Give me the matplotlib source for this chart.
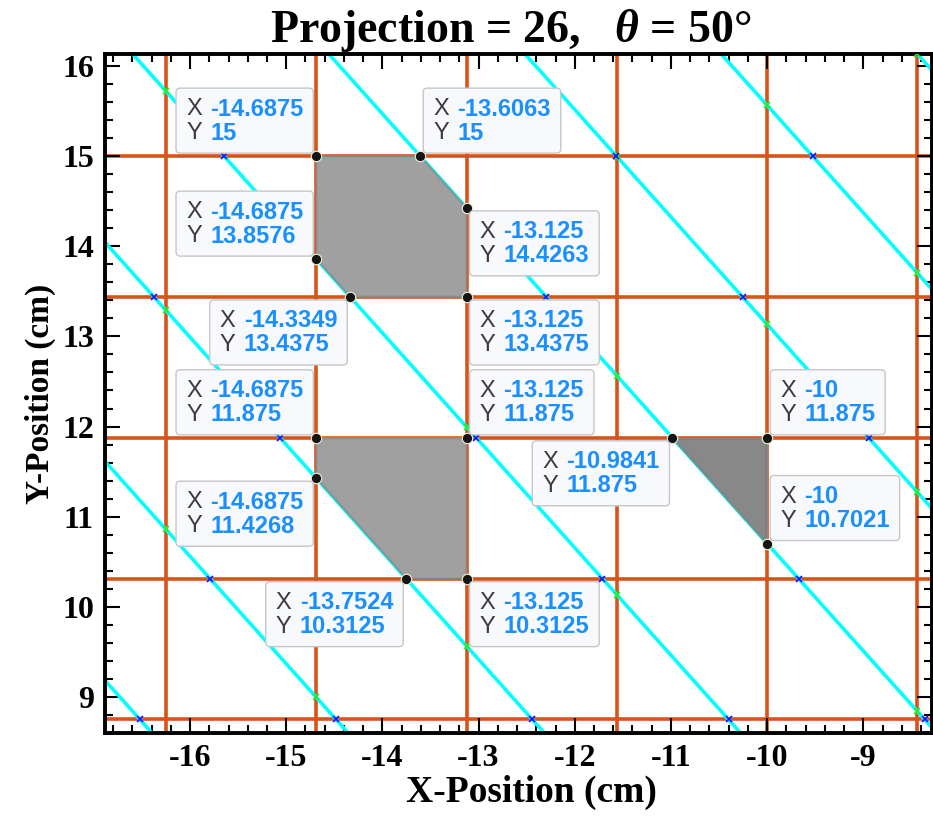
import numpy as np
import matplotlib.pyplot as plt
from matplotlib.patches import Polygon, FancyBboxPatch
from matplotlib.transforms import IdentityTransform
from matplotlib.ticker import MultipleLocator

# --- fuentes / estilo ---
plt.rcParams['font.family'] = ['Liberation Serif', 'DejaVu Serif']
plt.rcParams['font.weight'] = 'bold'
plt.rcParams['axes.labelweight'] = 'bold'
plt.rcParams['axes.titleweight'] = 'bold'
plt.rcParams['axes.unicode_minus'] = False
plt.rcParams['mathtext.fontset'] = 'custom'
plt.rcParams['mathtext.it'] = 'Liberation Serif:italic:bold'
plt.rcParams['mathtext.rm'] = 'Liberation Serif:bold'

# --- datos ---
PROJECTION = 26
THETA_DEG = 50
GRID_X = [-16.25, -14.6875, -13.125, -11.5625, -10.0, -8.4375]
GRID_Y = [8.75, 10.3125, 11.875, 13.4375, 15.0]
# desplazamiento perpendicular de cada rayo (x*sin + y*cos = s)
RAY_OFFSETS = [-7.03125, -5.46875, -3.90625, -2.34375, -0.78125, 0.78125, 2.34375, 3.90625]

POLY_1 = [(-14.6875, 15), (-13.6063, 15), (-13.125, 14.4263), (-13.125, 13.4375),
          (-14.3349, 13.4375), (-14.6875, 13.8576)]
POLY_2 = [(-14.6875, 11.875), (-13.125, 11.875), (-13.125, 10.3125),
          (-13.7524, 10.3125), (-14.6875, 11.4268)]
POLY_3 = [(-10.9841, 11.875), (-10, 11.875), (-10, 10.7021)]
POLY_COLORS = ['#999999', '#999999', '#7f7f7f']

# data tips: (x, y, lado)  u/l = arriba/abajo, l/r = izquierda/derecha
TIPS = [(-14.6875, 15, 'ul'), (-13.6063, 15, 'ur'), (-13.125, 14.4263, 'lr'),
        (-13.125, 13.4375, 'lr'), (-14.3349, 13.4375, 'll'), (-14.6875, 13.8576, 'ul'),
        (-14.6875, 11.875, 'ul'), (-13.125, 11.875, 'ur'), (-13.125, 10.3125, 'lr'),
        (-13.7524, 10.3125, 'll'), (-14.6875, 11.4268, 'll'), (-10.9841, 11.875, 'll'),
        (-10, 11.875, 'ur'), (-10, 10.7021, 'ur')]

XLIM = (-16.884, -8.286)
YLIM = (8.60, 16.133)

fig = plt.figure(figsize=(9.33, 8.19), dpi=100)
ax = fig.add_axes([105 / 933, 1 - 733 / 819, 827 / 933, 679 / 819])
ax.set_xlim(*XLIM)
ax.set_ylim(*YLIM)

# rejilla de detectores
for gx in GRID_X:
    ax.axvline(gx, color='#d95319', lw=2.6, zorder=1)
for gy in GRID_Y:
    ax.axhline(gy, color='#d95319', lw=2.6, zorder=1)

# rayos de proyeccion
th = np.radians(THETA_DEG)
xs = np.array([XLIM[0] - 1, XLIM[1] + 1])
for s in RAY_OFFSETS:
    ys = (s - xs * np.sin(th)) / np.cos(th)
    ax.plot(xs, ys, color='#00ffff', lw=2.6, zorder=2)
    # cortes con lineas verticales / horizontales
    for gx in GRID_X:
        yv = (s - gx * np.sin(th)) / np.cos(th)
        if YLIM[0] < yv < YLIM[1]:
            ax.plot(gx, yv, 'x', color='#22ee22', ms=5, mew=1.2, zorder=3)
    for gy in GRID_Y:
        xv = (s - gy * np.cos(th)) / np.sin(th)
        if XLIM[0] < xv < XLIM[1]:
            ax.plot(xv, gy, 'x', color='#1010ff', ms=5, mew=1.2, zorder=3)

# poligonos de interseccion
for poly, col in zip([POLY_1, POLY_2, POLY_3], POLY_COLORS):
    ax.add_patch(Polygon(poly, closed=True, fc=col, ec='#8a8a8a', lw=1, alpha=0.93, zorder=4))
    vx, vy = zip(*poly)
    ax.plot(vx, vy, 'o', ms=7.5, mfc='#151515', mec='#f3f0d8', mew=0.8, ls='none', zorder=5)

# ejes
ax.xaxis.set_major_locator(MultipleLocator(1))
ax.xaxis.set_minor_locator(MultipleLocator(0.2))
ax.yaxis.set_major_locator(MultipleLocator(1))
ax.yaxis.set_minor_locator(MultipleLocator(0.2))
ax.tick_params(which='both', direction='in', top=True, right=True, width=1.5, labelsize=23)
ax.tick_params(which='major', length=11, pad=8)
ax.tick_params(which='minor', length=6)
for sp in ax.spines.values():
    sp.set_linewidth(2.8)

ax.set_title(f'Projection = {PROJECTION},   $\\theta$ = {THETA_DEG}°', fontsize=33, pad=3, x=0.491)
ax.set_xlabel('X-Position (cm)', fontsize=27, labelpad=1)
ax.xaxis.label.set_x(0.516)
ax.set_ylabel('Y-Position (cm)', fontsize=24, labelpad=4)

# --- data tips (en pixeles) ---
renderer = fig.canvas.get_renderer()
tip_kw = dict(transform=IdentityTransform(), fontsize=17, family='Liberation Sans',
              va='center', ha='left', zorder=11)
for x, y, side in TIPS:
    px, py = ax.transData.transform((x, y))
    rows = []
    for letter, val in [('X', f'{x:g}'), ('Y', f'{y:g}')]:
        tl = fig.text(0, 0, letter, color='#3c3c3c', weight='normal', **tip_kw)
        tv = fig.text(0, 0, val, color='#1a8fff', weight='bold', **tip_kw)
        rows.append((tl, tv))
    w = 34 + max(tv.get_window_extent(renderer).width for _, tv in rows) + 10
    h = 65
    left = px + 3 if side[1] == 'r' else px - 3 - w
    bottom = py + 3 if side[0] == 'u' else py - 3 - h
    top = bottom + h
    fig.add_artist(FancyBboxPatch((left, bottom), w, h, boxstyle='round,pad=0,rounding_size=4',
                                  transform=IdentityTransform(), fc='#f8f9fd', ec='#c6c6c6',
                                  lw=1, zorder=10))
    for i, (tl, tv) in enumerate(rows):
        yc = top - 21 - 24 * i
        tl.set_position((left + 10, yc))
        tv.set_position((left + 34, yc))

fig.savefig('out.png', dpi=100)
